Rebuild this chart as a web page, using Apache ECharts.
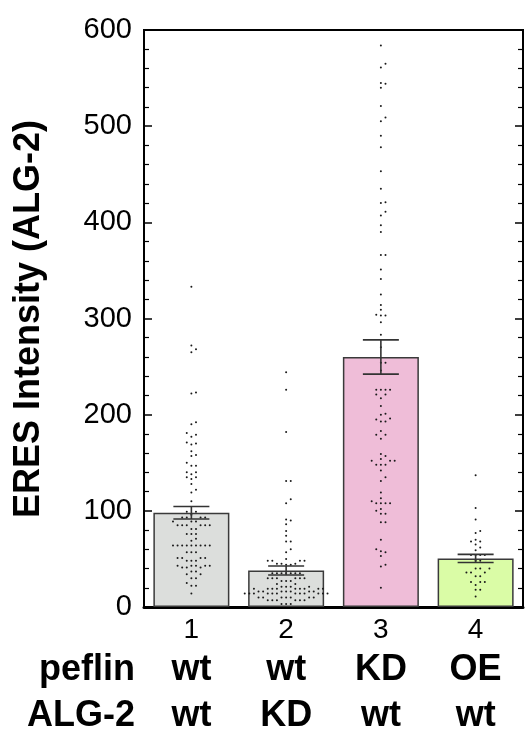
<!DOCTYPE html>
<html>
<head>
<meta charset="utf-8">
<script src="https://cdn.jsdelivr.net/npm/echarts@6/dist/echarts.min.js"></script>
<style>html,body{margin:0;padding:0;background:#fff;}#c{width:531px;height:734px;}</style>
</head>
<body>
<div id="c"></div>
<script>
// ---- data ----
const categories = ['1', '2', '3', '4'];
const peflin = ['wt', 'wt', 'KD', 'OE'];
const alg2 = ['wt', 'KD', 'wt', 'wt'];
const means = [98, 38, 260, 50.5];
const sems = [6.5, 4.7, 17.8, 4.2];
const yTicks = [0, 100, 200, 300, 400, 500, 600];
const barColors = ['#dcdedc', '#dcdedc', '#efbdd8', '#dafca6'];

const pts1 = [333, 272, 268, 265, 223, 222, 192, 190, 181, 179, 177, 171, 170, 169, 162, 158, 157, 150, 147, 147,
  140, 140, 138, 135, 135, 133, 128, 122, 119, 110, 99, 99, 96, 93, 93, 93, 93, 89, 89, 89,
  85, 85, 85, 85, 85, 85, 81, 81, 76, 76, 76, 71, 69, 64, 64, 64, 64, 64, 64, 64, 64, 64,
  57, 57, 57, 51, 51, 51, 51, 48, 48, 48, 43, 43, 43, 43, 43, 41, 41, 41, 37, 37, 34, 34, 30, 30, 25, 22, 22, 14];
const pts2 = [244, 226, 182, 131, 131, 112, 108, 91, 90, 86, 79, 74, 68, 68, 60, 57, 50, 48, 48, 48, 48,
  45, 45, 45, 44, 44, 35, 35, 35, 35, 35, 35, 35, 30, 30, 30, 30, 30, 30, 27, 27, 27, 24, 24,
  21, 21, 21, 21, 19, 19, 19, 19, 19, 19, 19, 19, 19, 16, 16, 16, 16, 16, 16, 16,
  14, 14, 14, 14, 14, 14, 14, 14, 14, 14, 14, 14, 10, 10, 10, 10, 10, 10, 10, 7, 7, 7, 7, 7, 7, 3, 3, 3];
const pts3 = [584, 565, 561, 545, 544, 540, 521, 509, 505, 490, 478, 453, 435, 421, 420, 411, 407, 397, 390, 366, 366,
  351, 341, 325, 314, 309, 304, 303, 303, 296, 283, 270, 254, 254, 246, 226, 226, 226, 226, 221, 221, 217, 209,
  201, 200, 196, 195, 193, 193, 183, 179, 179, 175, 159, 157, 154, 152, 152, 152, 148, 148, 148, 142, 135, 131,
  119, 113, 110, 108, 108, 108, 108, 102, 100, 97, 97, 88, 88, 70, 60, 58, 57, 53, 44, 42, 20];
const pts4 = [137, 103, 91, 79, 77, 70, 68, 68, 65, 62, 59, 54, 54, 54, 54, 48, 48, 40, 40, 40, 36, 36, 36,
  32, 32, 26, 26, 26, 23, 18, 18, 11];
const groups = [pts1, pts2, pts3, pts4];

// ---- layout constants ----
const G = { left: 144, top: 30, width: 379, height: 577 };
const pxPerUnit = G.height / 600;

// beeswarm layout (horizontal offsets in px computed from values)
function swarm(vals) {
  const sorted = vals.slice().sort((a, b) => a - b);
  const placed = [];
  const step = 4.6, d = 4.3;
  sorted.forEach(v => {
    const y = v * pxPerUnit;
    for (let k = 0; k < 40; k++) {
      const off = (k === 0) ? 0 : (k % 2 ? 1 : -1) * Math.ceil(k / 2) * step;
      let ok = true;
      for (const p of placed) {
        if (Math.abs(p.y - y) < d && Math.abs(p.x - off) < d) { ok = false; break; }
      }
      if (ok) { placed.push({ x: off, y: y, v: v }); break; }
    }
  });
  return placed;
}

const dotData = [];
groups.forEach((g, i) => {
  swarm(g).forEach(p => dotData.push([i, p.v, p.x]));
});
const errData = means.map((m, i) => [i, m - sems[i], m + sems[i]]);

const chart = echarts.init(document.getElementById('c'), null, { renderer: 'canvas' });
const font = 'Liberation Sans, Arial, Helvetica, sans-serif';

const yAxisBase = {
  type: 'value', min: 0, max: 600, interval: 100,
  axisLine: { show: true, lineStyle: { color: '#000', width: 2 } },
  axisTick: { show: true, inside: true, length: 8, lineStyle: { color: '#000', width: 1.5 } },
  minorTick: { show: true, splitNumber: 5, length: 5, lineStyle: { color: '#000', width: 1.2 } },
  splitLine: { show: false },
  minorSplitLine: { show: false }
};

chart.setOption({
  animation: false,
  backgroundColor: '#fff',
  grid: Object.assign({ show: true, borderColor: '#000', borderWidth: 2, backgroundColor: 'transparent' }, G),
  xAxis: {
    type: 'category', data: categories,
    axisLine: { show: true, lineStyle: { color: '#000', width: 3 } },
    axisTick: { show: false },
    axisLabel: {
      margin: 6,
      interval: 0,
      formatter: (v, i) => '{n|' + v + '}\n{b|' + peflin[i] + '}\n{b|' + alg2[i] + '}',
      rich: {
        n: { fontSize: 28, fontFamily: font, color: '#000', lineHeight: 34 },
        b: { fontSize: 36, fontFamily: font, fontWeight: 'bold', color: '#000', lineHeight: 46 }
      }
    }
  },
  yAxis: [
    Object.assign({}, yAxisBase, {
      position: 'left',
      axisLabel: {
        show: true, margin: 12, color: '#000', fontSize: 29, fontFamily: font,
        formatter: v => (yTicks.indexOf(v) >= 0 ? String(v) : '')
      }
    }),
    Object.assign({}, yAxisBase, { position: 'right', axisLabel: { show: false } })
  ],
  graphic: [
    {
      type: 'text', x: 29, y: 319, rotation: Math.PI / 2,
      style: { text: 'ERES Intensity (ALG-2)', font: 'bold 36px ' + font, fill: '#000', textAlign: 'center', textVerticalAlign: 'middle' }
    },
    {
      type: 'text', x: 135, y: 670,
      style: { text: 'peflin', font: 'bold 36px ' + font, fill: '#000', textAlign: 'right', textVerticalAlign: 'middle' }
    },
    {
      type: 'text', x: 135, y: 716,
      style: { text: 'ALG-2', font: 'bold 36px ' + font, fill: '#000', textAlign: 'right', textVerticalAlign: 'middle' }
    }
  ],
  series: [
    {
      type: 'bar', barWidth: 76, z: 2,
      data: means.map((m, i) => ({ value: m, itemStyle: { color: barColors[i], borderColor: '#3a3a3a', borderWidth: 1.5 } }))
    },
    {
      type: 'custom', z: 3,
      data: dotData,
      encode: { x: 0, y: 1 },
      renderItem: (params, api) => {
        const p = api.coord([api.value(0), api.value(1)]);
        return { type: 'circle', shape: { cx: p[0] + api.value(2), cy: p[1], r: 1.0 }, style: { fill: '#1a1a1a' } };
      }
    },
    {
      type: 'custom', z: 4,
      data: errData,
      encode: { x: 0, y: [1, 2] },
      renderItem: (params, api) => {
        const lo = api.coord([api.value(0), api.value(1)]);
        const hi = api.coord([api.value(0), api.value(2)]);
        const hw = 18;
        const st = { stroke: '#333', lineWidth: 1.6 };
        return {
          type: 'group', children: [
            { type: 'line', shape: { x1: lo[0], y1: lo[1], x2: hi[0], y2: hi[1] }, style: st },
            { type: 'line', shape: { x1: lo[0] - hw, y1: lo[1], x2: lo[0] + hw, y2: lo[1] }, style: st },
            { type: 'line', shape: { x1: hi[0] - hw, y1: hi[1], x2: hi[0] + hw, y2: hi[1] }, style: st }
          ]
        };
      }
    }
  ]
});
</script>
</body>
</html>
